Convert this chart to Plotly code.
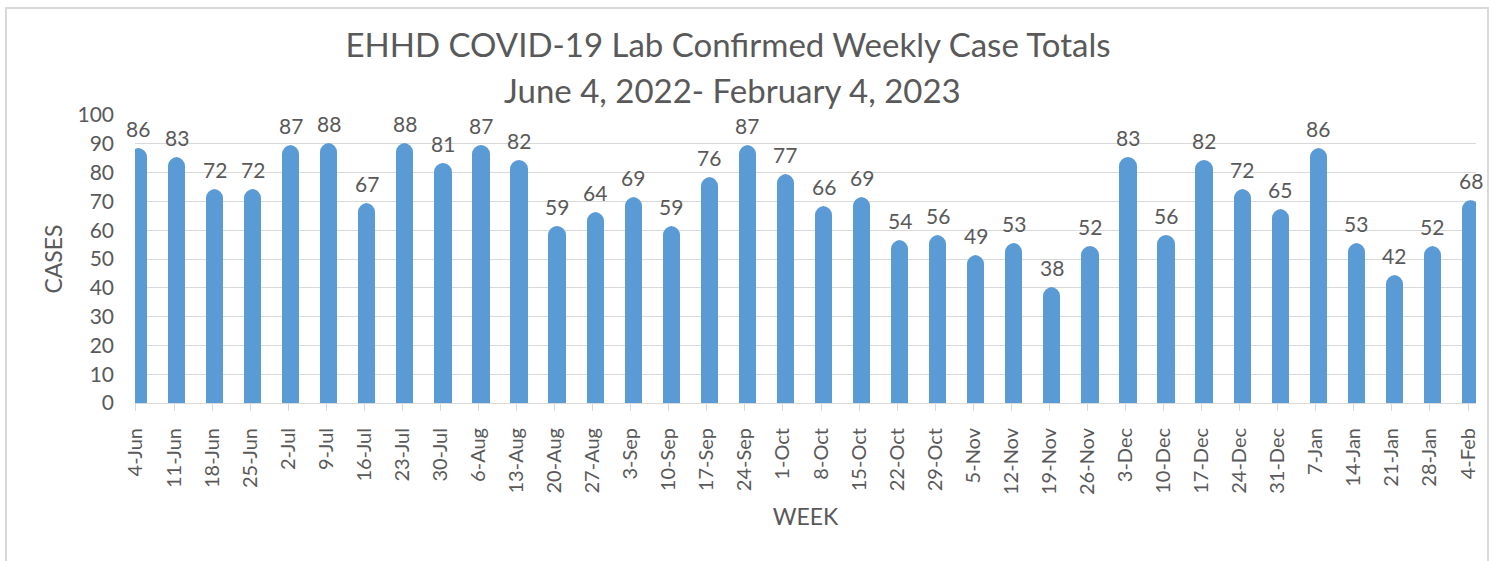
import plotly.graph_objects as go

# ---- data ----
weeks = ["4-Jun", "11-Jun", "18-Jun", "25-Jun", "2-Jul", "9-Jul", "16-Jul", "23-Jul",
         "30-Jul", "6-Aug", "13-Aug", "20-Aug", "27-Aug", "3-Sep", "10-Sep", "17-Sep",
         "24-Sep", "1-Oct", "8-Oct", "15-Oct", "22-Oct", "29-Oct", "5-Nov", "12-Nov",
         "19-Nov", "26-Nov", "3-Dec", "10-Dec", "17-Dec", "24-Dec", "31-Dec", "7-Jan",
         "14-Jan", "21-Jan", "28-Jan", "4-Feb"]
cases = [86, 83, 72, 72, 87, 88, 67, 88, 81, 87, 82, 59, 64, 69, 59, 76, 87, 77,
         66, 69, 54, 56, 49, 53, 38, 52, 83, 56, 82, 72, 65, 86, 53, 42, 52, 68]
y_ticks = [0, 10, 20, 30, 40, 50, 60, 70, 80, 90, 100]

title_line1 = "EHHD COVID-19 Lab Confirmed Weekly Case Totals"
title_line2 = "June 4, 2022- February 4, 2023"
x_title = "WEEK"
y_title = "CASES"

# ---- style ----
W, H = 1496, 561
L, R, T, B = 135, 20, 115, 158
FONT = "Lato"
TXT = "#595959"
GRID = "#D9D9D9"
BAR = "#5B9BD5"

x_idx = list(range(len(weeks)))
core_w = 0.085
shift = 0.065
pw = W - L - R
ph = H - T - B

fig = go.Figure()
fig.add_trace(go.Bar(
    x=x_idx, y=cases, width=core_w, offset=shift - core_w / 2,
    marker=dict(color=BAR, cornerradius="50%", line=dict(color=BAR, width=14)),
    hovertemplate="%{customdata}: %{y}<extra></extra>",
    customdata=weeks,
))

for i, v in zip(x_idx, cases):
    fig.add_annotation(x=i, y=v, text=str(v), showarrow=False, xanchor="center",
                       yanchor="bottom", yshift=12, xshift=2.5,
                       font=dict(family=FONT, size=21, color=TXT))

# second title line
fig.add_annotation(xref="paper", yref="paper", x=(732 - L) / pw, y=1 + (T - 90) / ph,
                   text=title_line2, showarrow=False, xanchor="center", yanchor="middle",
                   font=dict(family=FONT, size=33, color=TXT))

fig.add_shape(type="rect", xref="paper", yref="paper",
              x0=(6 - L) / pw, x1=(1488 - L) / pw,
              y0=-(H + 20 - T - ph) / ph, y1=(H - 8 - B) / ph,
              line=dict(color=GRID, width=2), fillcolor="rgba(0,0,0,0)", layer="below")

fig.update_layout(
    width=W, height=H,
    margin=dict(l=L, r=R, t=T, b=B, autoexpand=False),
    paper_bgcolor="white", plot_bgcolor="white",
    showlegend=False,
    font=dict(family=FONT, color=TXT, size=21),
    title=dict(text=title_line1,
               x=728 / W, xanchor="center", xref="container",
               y=1 - 45 / H, yanchor="middle", yref="container",
               font=dict(family=FONT, size=33, color=TXT)),
    bargap=0,
)
fig.update_xaxes(
    range=[-0.026, 35.21], tickmode="array", tickvals=x_idx, ticktext=weeks,
    tickangle=-90, ticks="outside", ticklen=7, tickcolor=GRID, tickwidth=1,
    ticklabelstandoff=9,
    showline=True, linecolor=GRID, linewidth=1, showgrid=False, zeroline=False,
    tickfont=dict(family=FONT, size=20, color=TXT),
    title=dict(text=x_title, standoff=14, font=dict(family=FONT, size=23, color=TXT)),
    automargin=False,
)
fig.update_yaxes(
    range=[0, 100], tickmode="array", tickvals=y_ticks,
    showgrid=True, gridcolor=GRID, gridwidth=1, zeroline=False, showline=False,
    ticks="", ticklabelstandoff=20,
    tickfont=dict(family=FONT, size=21, color=TXT),
    title=dict(text=y_title, standoff=8, font=dict(family=FONT, size=23, color=TXT)),
    automargin=False,
)

fig.write_html("out.html", config={"displayModeBar": False},
               post_script="document.body.style.margin='0';document.body.style.overflow='hidden';")
